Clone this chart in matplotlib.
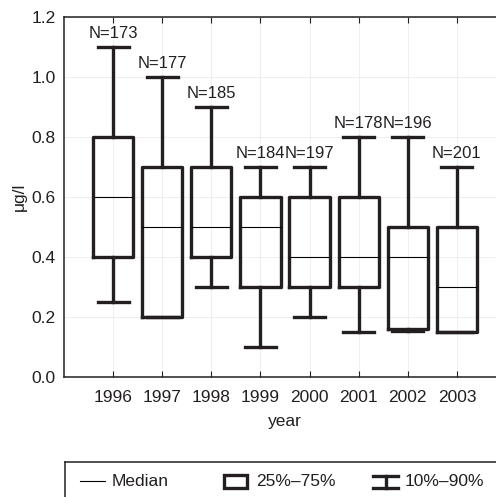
import matplotlib
matplotlib.use("Agg")
import matplotlib.pyplot as plt
from matplotlib.lines import Line2D
from matplotlib.patches import Rectangle

plt.rcParams['font.family'] = ['Liberation Sans', 'DejaVu Sans']

years = [1996, 1997, 1998, 1999, 2000, 2001, 2002, 2003]
n_obs = [173, 177, 185, 184, 197, 178, 196, 201]
p10 = [0.25, 0.20, 0.30, 0.10, 0.20, 0.15, 0.155, 0.15]
p25 = [0.40, 0.20, 0.40, 0.30, 0.30, 0.30, 0.16, 0.15]
median = [0.60, 0.50, 0.50, 0.50, 0.40, 0.40, 0.40, 0.30]
p75 = [0.80, 0.70, 0.70, 0.60, 0.60, 0.60, 0.50, 0.50]
p90 = [1.10, 1.00, 0.90, 0.70, 0.70, 0.80, 0.80, 0.70]

W, H = 496, 497
fs = 12.5
dark = '#231f20'

def px(x, y):
    return x / W, 1 - y / H

fig = plt.figure(figsize=(W / 100, H / 100), dpi=100)
ax = fig.add_axes([64 / W, 120 / H, 442 / W, 360 / H])

stats = [dict(whislo=lo, q1=a, med=m, q3=b, whishi=hi)
         for lo, a, m, b, hi in zip(p10, p25, median, p75, p90)]
ax.bxp(stats, positions=years, widths=0.82, capwidths=0.63, showfliers=False,
       boxprops=dict(color=dark, lw=2.4),
       whiskerprops=dict(color=dark, lw=2.4),
       capprops=dict(color=dark, lw=2.4),
       medianprops=dict(color='black', lw=0.8))

for yr, n, hi in zip(years, n_obs, p90):
    ax.text(yr, hi + 0.02, f'N={n}', ha='center', va='bottom', fontsize=12, color=dark)

ax.set_xlim(1995, 2004)
ax.set_ylim(0, 1.2)
ax.set_xticks(years)
ax.set_xticklabels([str(y) for y in years])
ax.set_yticks([0.0, 0.2, 0.4, 0.6, 0.8, 1.0, 1.2])
ax.set_yticklabels(['0.0', '0.2', '0.4', '0.6', '0.8', '1.0', '1.2'])
ax.tick_params(axis='x', direction='in', length=4, top=True, colors=dark,
               labelsize=fs, pad=9)
ax.tick_params(axis='y', length=0, labelsize=fs, colors=dark, pad=6)
ax.grid(True, color='#ededed', lw=0.6)
ax.set_axisbelow(True)
for s in ['left', 'bottom', 'top']:
    ax.spines[s].set_color(dark)
    ax.spines[s].set_linewidth(1.1)
ax.spines['right'].set_visible(False)

ax.set_xlabel('year', fontsize=fs, color=dark, labelpad=7)
ax.set_ylabel('μg/l', fontsize=fs, color=dark)
ax.yaxis.set_label_coords(-0.085, 0.5)

# legend box (cut off by figure edge like the original)
fig.add_artist(Line2D(*zip(px(65, 462), px(W + 5, 462)), color=dark, lw=1.1))
fig.add_artist(Line2D(*zip(px(65, 462), px(65, H + 5)), color=dark, lw=1.1))

fig.add_artist(Line2D(*zip(px(80, 481), px(105, 481)), color='black', lw=0.8))
fig.text(*px(112, 482), 'Median', fontsize=fs, va='center', color=dark)

x0, y0 = px(224, 488)
x1, y1 = px(247, 475)
fig.add_artist(Rectangle((x0, y0), x1 - x0, y1 - y0, transform=fig.transFigure,
                         fill=False, ec=dark, lw=2.4))
fig.text(*px(256, 482), '25%–75%', fontsize=fs, va='center', color=dark)

fig.add_artist(Line2D(*zip(px(373, 475.5), px(398, 475.5)), color=dark, lw=2.4))
fig.add_artist(Line2D(*zip(px(373, 487.5), px(398, 487.5)), color=dark, lw=2.4))
fig.add_artist(Line2D(*zip(px(385.5, 475.5), px(385.5, 487.5)), color=dark, lw=2.4))
fig.text(*px(405, 482), '10%–90%', fontsize=fs, va='center', color=dark)

fig.savefig('out.png', dpi=100)
